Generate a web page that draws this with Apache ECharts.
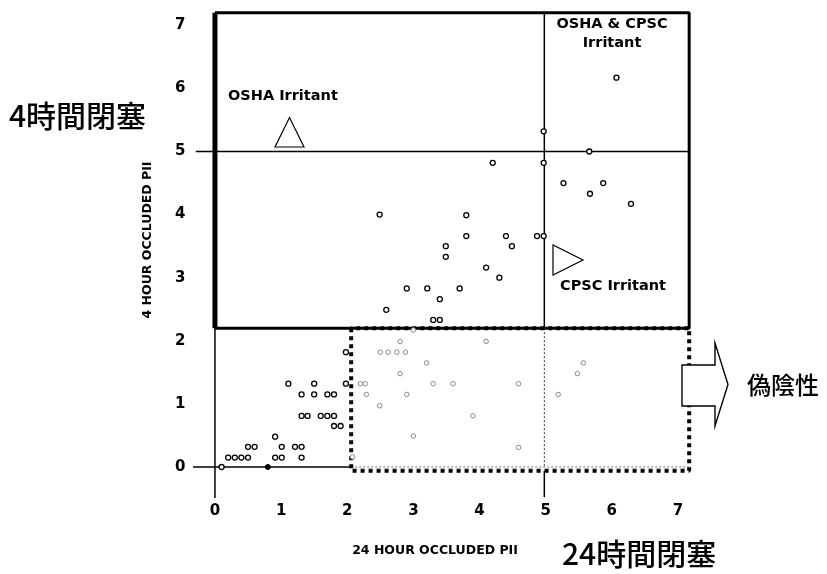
<!DOCTYPE html>
<html>
<head>
<meta charset="utf-8">
<script src="https://cdn.jsdelivr.net/npm/echarts@6/dist/echarts.min.js"></script>
<style>
html,body{margin:0;padding:0;background:#fff;}
#c{width:827px;height:574px;}
</style>
</head>
<body>
<div id="c"></div>
<script>
// ---- data ----
const xTicks = [0, 1, 2, 3, 4, 5, 6, 7];
const yTicks = [0, 1, 2, 3, 4, 5, 6, 7];

// clearly printed points (24h PII, 4h PII)
const clearX = [6.07, 4.97, 5.66, 4.2, 4.97, 5.27, 5.87, 5.67, 6.29, 3.8, 2.49, 3.8, 4.4, 4.87, 4.97,
  3.49, 4.49, 3.49, 4.1, 4.3, 2.9, 3.21, 3.7, 3.4, 3.3, 3.4, 2.59,
  0.1, 0.2, 0.3, 0.4, 0.5, 0.5, 0.6, 0.91, 0.91, 1.01, 1.01, 1.21, 1.31, 1.31,
  1.11, 1.5, 1.31, 1.5, 1.7, 1.8, 1.31, 1.4, 1.6, 1.7, 1.8, 1.8, 1.9, 1.98, 1.98];
const clearY = [6.17, 5.32, 5.0, 4.82, 4.82, 4.5, 4.5, 4.33, 4.17, 3.99, 4.0, 3.66, 3.66, 3.66, 3.66,
  3.5, 3.5, 3.33, 3.16, 3.0, 2.83, 2.83, 2.83, 2.66, 2.33, 2.33, 2.49,
  0, 0.15, 0.15, 0.15, 0.15, 0.32, 0.32, 0.48, 0.15, 0.15, 0.32, 0.32, 0.32, 0.15,
  1.32, 1.32, 1.15, 1.15, 1.15, 1.15, 0.81, 0.81, 0.81, 0.81, 0.81, 0.65, 0.65, 1.32, 1.82];

// faintly printed points (false-negative zone)
const faintX = [2.08, 2.2, 2.27, 2.29, 2.49, 2.8, 2.5, 2.62, 2.75, 2.88, 2.8, 2.9, 3.0,
  4.1, 3.2, 3.3, 3.6, 4.59, 3.9, 4.59, 5.57, 5.48, 5.19, 3.0];
const faintY = [0.16, 1.32, 1.32, 1.15, 0.97, 1.99, 1.82, 1.82, 1.82, 1.82, 1.48, 1.15, 0.49,
  1.99, 1.65, 1.32, 1.32, 1.32, 0.81, 0.31, 1.65, 1.48, 1.15, 2.17];

const filledX = [0.8];
const filledY = [0];

// regulatory thresholds / zone limits (data units)
const oshaLimit = 5;        // 4 hour PII
const cpscLimit = 5;        // 24 hour PII
const zoneLow = 2.2;        // lower bound of irritant box
const zoneTop = 7.2;
const zoneRight = 7.17;
const fnLeft = 2.06;        // false-negative zone left
const fnBottom = -0.06;

const zip = (xs, ys) => xs.map((x, i) => [x, ys[i]]);

const chart = echarts.init(document.getElementById('c'), null, {renderer: 'canvas'});

function lineSeries(data, width, type, color) {
  return {
    type: 'line', data: data, symbol: 'none', silent: true, animation: false,
    lineStyle: {color: color || '#000', width: width, type: type || 'solid', cap: 'butt'},
    z: 1
  };
}

const tickFont = {fontFamily: 'DejaVu Sans', fontWeight: 'bold', fontSize: 15, color: '#000'};
const jpFont = {fontFamily: 'Noto Sans CJK JP', fontWeight: 500, fill: '#000'};

chart.setOption({
  backgroundColor: '#fff',
  animation: false,
  grid: {left: 188.5, right: 116, top: 6.35, bottom: 75.45},
  xAxis: {
    type: 'value', min: -0.4, max: 7.5,
    axisLine: {show: false}, axisTick: {show: false}, splitLine: {show: false},
    axisLabel: Object.assign({customValues: xTicks, margin: 5}, tickFont)
  },
  yAxis: {
    type: 'value', min: -0.5, max: 7.3,
    axisLine: {show: false}, axisTick: {show: false}, splitLine: {show: false},
    axisLabel: Object.assign({customValues: yTicks, margin: 3}, tickFont)
  },
  series: [
    // thick irritant box
    lineSeries([[0, zoneLow], [0, zoneTop]], 5),
    lineSeries([[0, zoneTop], [zoneRight, zoneTop], [zoneRight, zoneLow], [0, zoneLow]], 3),
    // OSHA threshold line
    lineSeries([[-0.29, oshaLimit], [zoneRight, oshaLimit]], 1.5),
    // CPSC threshold line
    lineSeries([[cpscLimit - 0.02, zoneTop], [cpscLimit - 0.02, zoneLow]], 1.5),
    lineSeries([[cpscLimit - 0.02, zoneLow], [cpscLimit - 0.02, 0]], 1, [2, 2], '#333'),
    lineSeries([[cpscLimit - 0.02, fnBottom], [cpscLimit - 0.02, -0.48]], 1.5),
    // y axis lower part
    lineSeries([[0, zoneLow], [0, -0.49]], 1.5),
    // x axis
    lineSeries([[-0.33, 0], [fnLeft, 0]], 1.5),
    lineSeries([[fnLeft, 0], [zoneRight, 0]], 1, [2, 2], '#777'),
    // false negative zone (heavy dotted)
    lineSeries([[fnLeft, zoneLow], [fnLeft, fnBottom], [zoneRight, fnBottom], [zoneRight, zoneLow], [fnLeft, zoneLow]], 4, [4, 4]),
    {
      type: 'scatter', data: zip(faintX, faintY), symbol: 'circle', symbolSize: 4.5,
      itemStyle: {color: '#fff', borderColor: '#8a8a8a', borderWidth: 1, opacity: 1}, z: 3, silent: true
    },
    {
      type: 'scatter', data: zip(clearX, clearY), symbol: 'circle', symbolSize: 5,
      itemStyle: {color: '#fff', borderColor: '#000', borderWidth: 1.3, opacity: 1}, z: 4, silent: true
    },
    {
      type: 'scatter', data: zip(filledX, filledY), symbol: 'circle', symbolSize: 5,
      itemStyle: {color: '#000', borderColor: '#000', borderWidth: 1, opacity: 1}, z: 4, silent: true
    }
  ],
  graphic: [
    {type: 'text', left: 228, top: 89, z: 10,
      style: {text: 'OSHA Irritant', fontFamily: 'DejaVu Sans', fontWeight: 'bold', fontSize: 14.5, fill: '#000'}},
    {type: 'polygon', z: 10, shape: {points: [[275, 147], [304, 147], [289.5, 117.5]]},
      style: {fill: '#fff', stroke: '#000', lineWidth: 1.2}},
    {type: 'text', x: 612, y: 15, z: 10,
      style: {text: 'OSHA & CPSC\nIrritant', align: 'center', lineHeight: 19, fontFamily: 'DejaVu Sans', fontWeight: 'bold', fontSize: 14.5, fill: '#000'}},
    {type: 'polygon', z: 10, shape: {points: [[553, 245], [553, 275], [583, 260]]},
      style: {fill: '#fff', stroke: '#000', lineWidth: 1.2}},
    {type: 'text', left: 560, top: 279, z: 10,
      style: {text: 'CPSC Irritant', fontFamily: 'DejaVu Sans', fontWeight: 'bold', fontSize: 14.5, fill: '#000'}},
    {type: 'polygon', z: 10, shape: {points: [[682, 365], [715, 365], [715, 343], [728, 384.5], [715, 426], [715, 406], [682, 406]]},
      style: {fill: '#fff', stroke: '#000', lineWidth: 1.4}},
    {type: 'text', left: 747, top: 373, z: 10,
      style: Object.assign({text: '偽陰性', fontSize: 24}, jpFont)},
    {type: 'text', left: 9, top: 101, z: 10,
      style: Object.assign({text: '4時間閉塞', fontSize: 30}, jpFont)},
    {type: 'text', left: 562, top: 539, z: 10,
      style: Object.assign({text: '24時間閉塞', fontSize: 30}, jpFont)},
    {type: 'text', x: 435, y: 551, z: 10,
      style: {text: '24 HOUR OCCLUDED PII', align: 'center', verticalAlign: 'middle', fontFamily: 'DejaVu Sans', fontWeight: 'bold', fontSize: 12.5, fill: '#000'}},
    {type: 'text', x: 148, y: 240, rotation: Math.PI / 2, z: 10,
      style: {text: '4 HOUR OCCLUDED PII', align: 'center', verticalAlign: 'middle', fontFamily: 'DejaVu Sans', fontWeight: 'bold', fontSize: 12.5, fill: '#000'}}
  ]
});
</script>
</body>
</html>
